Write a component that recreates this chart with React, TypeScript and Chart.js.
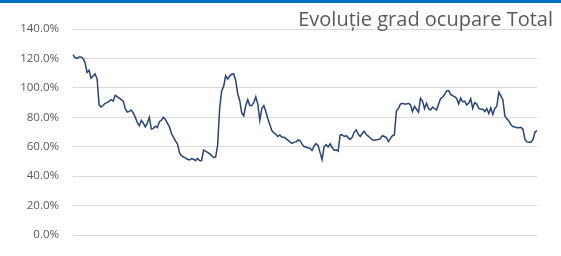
import React, { useEffect, useRef } from 'react';
import { Chart, registerables } from 'chart.js';

Chart.register(...registerables);

// Occupancy rate (%) per period
const occupancy: number[] = [
  122.5, 120.5, 120, 121, 121, 120, 117, 110.5, 112, 106.5,
  108, 109.5, 106, 88.5, 87, 88, 89.5, 90, 91, 92,
  91, 95, 94, 93, 92, 91, 86, 83.5, 84, 85,
  83, 80, 76.5, 74.3, 78, 76, 73.5, 76, 80, 72,
  72.5, 74, 73, 77, 78, 80, 78.5, 76, 73.5, 69,
  66.5, 64, 62, 56, 54, 53, 52.5, 51.5, 51, 52,
  51.5, 50.6, 52, 50.6, 50.5, 57.7, 57, 56.2, 55.3, 54,
  52.7, 53, 61, 86, 98, 101, 108.3, 106, 108, 109.3,
  109.5, 105, 96, 91.3, 83, 81, 88, 92, 88, 88,
  90, 94, 89, 78, 86, 88, 84, 79, 75, 71,
  69.4, 68.5, 67, 68, 66.5, 66.5, 65.5, 64.5, 63.3, 62.3,
  63, 63.3, 64.5, 64.3, 61.8, 60.2, 59.8, 59.2, 59, 57.5,
  60.5, 62.2, 61, 56, 51.3, 60, 61.5, 59.8, 62, 59.5,
  57.7, 58, 57, 68, 68.2, 67, 67.5, 66.2, 65, 66.5,
  70, 71.5, 68.5, 67, 69, 70.5, 68.3, 67.2, 66, 64.8,
  64.5, 64.8, 65, 65.5, 67.5, 67, 66.3, 63.5, 65.5, 67.5,
  68, 84.5, 86, 89, 89.5, 89, 89, 89.5, 88.5, 84,
  87.5, 85.5, 83.5, 93, 91, 86, 89.5, 86, 85, 87,
  86, 85, 89, 92.6, 93.8, 95.5, 98, 98.2, 95.6, 94.7,
  94, 92.8, 89, 93, 90.5, 91, 88.5, 89.5, 92.6, 86,
  90, 89, 86, 85.5, 85.5, 84, 86, 82.5, 86.5, 82,
  86, 87.5, 97, 94.5, 92, 81, 79, 77.5, 75, 73.8,
  73.5, 73, 73, 73.2, 72, 65, 63.3, 63, 63, 65,
  70, 71,
];

const categories: string[] = occupancy.map((_, i) => String(i + 1));

const yMin = 0;
const yMax = 140;
const yStep = 20;

const chartTitle = 'Evoluție grad ocupare Total';

export default function App() {
  const ref = useRef<HTMLCanvasElement>(null);

  useEffect(() => {
    document.body.style.margin = '0';
    const chart = new Chart(ref.current as HTMLCanvasElement, {
      type: 'line',
      data: {
        labels: categories,
        datasets: [
          {
            data: occupancy,
            borderColor: '#264478',
            borderWidth: 1.5,
            pointRadius: 0,
            tension: 0,
            fill: false,
          },
        ],
      },
      options: {
        animation: false,
        responsive: false,
        maintainAspectRatio: false,
        layout: { padding: { top: 29, right: 24, bottom: 8, left: 0 } },
        plugins: {
          legend: { display: false },
          tooltip: { enabled: false },
        },
        scales: {
          x: { display: false, ticks: { display: false }, grid: { display: false } },
          y: {
            min: yMin,
            max: yMax,
            ticks: {
              stepSize: yStep,
              callback: (v: any) => Number(v).toFixed(1) + '%',
              color: '#595959',
              font: { family: 'Open Sans', size: 11.5 },
              padding: 14,
            },
            grid: { color: '#d9d9d9', drawTicks: false, lineWidth: 1 },
            border: { display: false },
            afterFit: (s: any) => {
              s.width = 73;
            },
          },
        },
      },
    });
    return () => chart.destroy();
  }, []);

  return (
    <div style={{ position: 'relative', width: 561, height: 256, background: '#fff', overflow: 'hidden' }}>
      <canvas ref={ref} width={561} height={256} style={{ position: 'absolute', left: 0, top: 0 }} />
      <div style={{ position: 'absolute', left: 0, top: 0, width: 561, height: 3, background: '#0070C0' }} />
      <div
        style={{
          position: 'absolute',
          right: 8,
          top: 9,
          fontFamily: 'Open Sans',
          fontSize: 20,
          lineHeight: '20px',
          color: '#595959',
          whiteSpace: 'nowrap',
        }}
      >
        {chartTitle}
      </div>
    </div>
  );
}
